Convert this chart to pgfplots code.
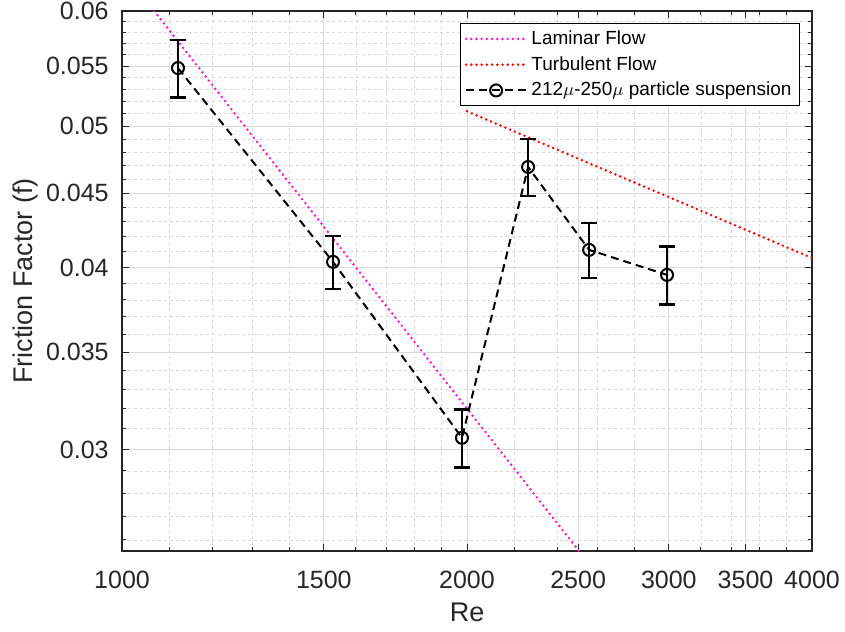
\documentclass[border=0pt]{standalone}
\usepackage{fontspec}
\setmainfont{Liberation Sans}
\usepackage{pgfplots}
\pgfplotsset{compat=1.18}

\definecolor{axgray}{RGB}{38,38,38}
\definecolor{laminar}{RGB}{255,25,200}
\definecolor{turbulent}{RGB}{255,0,0}

\begin{document}
\begin{tikzpicture}
\begin{axis}[
    name=ax,
    scale only axis,
    width=345pt,
    height=270pt,
    xmode=log,
    ymode=log,
    xmin=1000, xmax=4000,
    ymin=0.02555, ymax=0.06,
    xtick={1000,1500,2000,2500,3000,3500,4000},
    xticklabels={1000,1500,2000,2500,3000,3500,4000},
    minor xtick={1100,1200,1300,1400,1600,1700,1800,1900,2200,2400,2600,2800,3200,3400,3600,3800},
    ytick={0.03,0.035,0.04,0.045,0.05,0.055,0.06},
    yticklabels={0.03,0.035,0.04,0.045,0.05,0.055,0.06},
    minor ytick={0.026,0.027,0.028,0.029,0.031,0.032,0.033,0.034,0.036,0.037,0.038,0.039,0.041,0.042,0.043,0.044,0.046,0.047,0.048,0.049,0.051,0.052,0.053,0.054,0.056,0.057,0.058,0.059},
    tick align=inside,
    major tick length=3.5pt,
    minor tick length=2pt,
    every tick/.style={axgray, line width=0.5pt},
    axis line style={axgray, line width=0.75pt},
    grid=both,
    major grid style={gray!30, line width=0.5pt},
    minor grid style={gray!30, line width=0.4pt, dash pattern=on 1.5pt off 1.5pt},
    /pgf/number format/assume math mode=true,
    ticklabel style={font=\fontsize{12.5}{14}\selectfont, text=axgray},
    xticklabel style={anchor=north, inner sep=0pt, yshift=-10pt},
    yticklabel style={anchor=east, inner sep=0pt, xshift=-6.5pt},
    xlabel={Re},
    ylabel={Friction Factor (f)},
    label style={font=\fontsize{13.5}{15}\selectfont, text=axgray},
    xlabel style={at={(axis description cs:0.5,-0.1296)}, anchor=base},
    ylabel style={at={(axis description cs:-0.1304,0.5)}, anchor=base},
    legend image code/.code={\draw[mark repeat=2,mark phase=2,#1] plot coordinates {(0pt,0pt) (15pt,0pt) (30pt,0pt)};},
    legend cell align=left,
    legend style={at={(rel axis cs:0.9826,0.978)}, anchor=north east,
        font=\fontsize{9.5}{11}\selectfont, draw=black, line width=0.6pt,
        inner xsep=2pt, inner ysep=1.5pt, row sep=0.5pt},
]

% laminar flow line
\addplot[laminar, line width=1.4pt, line cap=round, dash pattern=on 0pt off 2.6pt]
coordinates {(1000,0.064) (2600,0.024615)};
\addlegendentry{Laminar Flow}

% turbulent flow line
\addplot[turbulent, line width=1.4pt, line cap=round, dash pattern=on 0pt off 2.6pt]
coordinates {(2000,0.0512) (4000,0.0406)};
\addlegendentry{Turbulent Flow}

% measured data
\addplot[black, line width=1pt, dash pattern=on 4pt off 2.5pt,
    mark=o, mark size=3pt, mark options={solid, line width=1pt},
    error bars/.cd, y dir=both, y explicit,
    error bar style={solid, line width=1.2pt},
    error mark options={rotate=90, mark size=4pt, line width=1.2pt, solid}]
table[x=x, y=y, y error=e] {
x     y        e
1119  0.05483  0.0025
1528  0.04036  0.0017
1980  0.03056  0.0014
2261  0.04689  0.0021
2556  0.04113  0.0018
2989  0.03954  0.0018
};
\addlegendentry{212$\mu$-250$\mu$ particle suspension}

\end{axis}
\pgfresetboundingbox
\path ([shift={(-61pt,-40pt)}]ax.south west) rectangle ([shift={(16.5pt,5.5pt)}]ax.north east);
\end{tikzpicture}
\end{document}
